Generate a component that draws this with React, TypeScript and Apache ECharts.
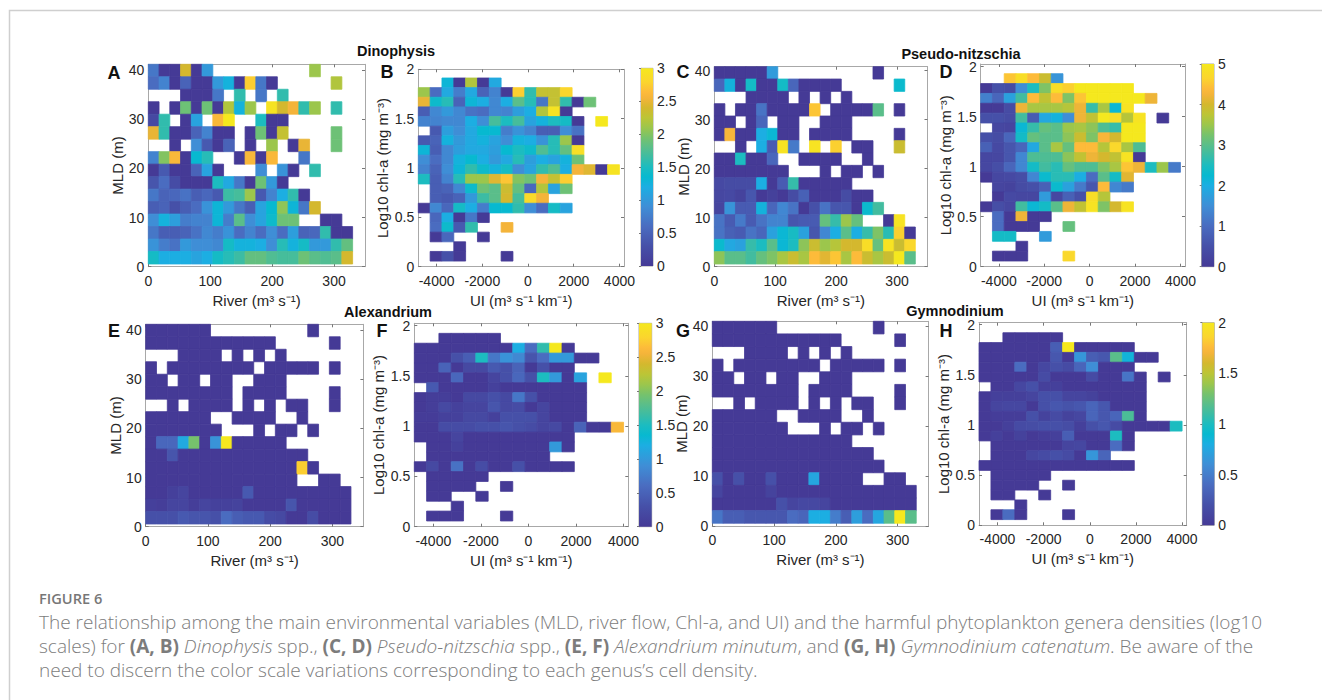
import React, { useEffect, useRef } from "react";
import * as echarts from "echarts";

const _ = null;

const riverTicks = [0, 100, 200, 300];
const mldTicks = [0, 10, 20, 30, 40];
const uiTicks = [-4000, -2000, 0, 2000, 4000];
const chlTicks = [0, 0.5, 1, 1.5, 2];
const cb3Ticks = [0, 0.5, 1, 1.5, 2, 2.5, 3];
const cb5Ticks = [0, 1, 2, 3, 4, 5];
const cb2Ticks = [0, 0.5, 1, 1.5, 2];

const valuesA = [
  [0.7,0,0,2.4,0,1.0,_,_,_,_,_,_,_,_,_,2.1],
  [0.6,0.8,0,0.5,0,0,1.0,1.25,0,2.75,0.7,0,_,_,_,_,_,2.2],
  [_,_,_,0,0,0,0.7,_,1.6,_,0.7,_,1.6],
  [0,_,0,1.9,0,1.9,0,2.2,1.25,2.1,_,2.95,2.4,2.55,1.6,2.1,_,1.6],
  [0.2,1.6,_,0,1.1,_,2.6,3,_,_,1.5,0,0],
  [2.5,1.6,0,0,0.5,0.8,0,0,_,0,1.9,0,2.3,_,_,_,_,1.9],
  [_,_,0,_,0.9,0.4,0,0.5,_,0,_,2.1,_,0,2.5,_,_,1.9],
  [0.8,2.0,2.6,0,1.35,1.55,_,_,0,2.6,0,2.6,_,_,0.7],
  [0,0.4,0,0,0.5,1.1,0,_,_,_,0.9,_,0.95,0,_,1.6],
  [0.35,0.6,0.25,0,0,0,1.5,1.15,0.7,0,1.9,1.0,0],
  [0.7,0.5,0.55,0.65,0.45,0.55,0.4,1.65,1.7,2.1,0.4,0.8,1.2,1.6,0],
  [0.45,0.5,0.3,0.45,0.6,0.95,1.3,1.0,0.7,0.45,1.1,1.35,2.05,1.3,0.7,2.4],
  [0.9,1.25,1.05,0.75,0.8,0.8,1.3,0.75,1.8,0.9,1.1,1.4,1.9,1.9,_,_,0,0],
  [0.7,0.45,0.45,0.5,0.65,0.85,0.75,0.95,0.6,0.8,0.6,0.9,0.6,1.05,0.5,0.55,1.6,0,0],
  [0.95,0.75,0.65,1.0,0.9,0.9,0.85,1.45,1.25,1.25,1.2,0.9,1.55,1.25,1.45,1.0,1.0,1.6,1.85],
  [1.45,1.2,1.2,1.2,1.1,1.2,1.45,1.55,1.65,1.85,1.85,1.75,1.7,1.7,1.9,1.8,1.75,1.8,2.4],
];

const valuesB = [
  [_,_,1.3,0,2.2,0,1.15],
  [2.1,0.6,1.15,0.75,1.15,0.5,0.8,0,2.75,1.6,2.3,2.3,2.8],
  [2.5,1.4,1.55,0.5,1.3,1.2,0.85,1.2,1.8,1.55,0.7,2.3,1.6,0,1.9],
  [0.45,0.85,1.0,0.85,0.65,0.6,0.85,0.8,1.05,1.2,2.2,2.95,0],
  [0.8,0.8,0.85,0.85,1.2,0.9,1.7,1.5,1.7,1.1,1.25,1.5,1.45,0,_,3.0],
  [_,0.4,1.05,0.9,1.15,1.35,1.35,0.75,0.95,0.8,0.45,0.45,0.9,0.65],
  [0.4,0.5,1.25,1.0,1.15,1.25,1.1,0.9,1.25,1.2,0.95,1.55,2.1,0],
  [1.3,0.45,0.85,1.05,1.15,1.15,1.05,1.35,1.5,1.4,1.75,1.55,1.85,2.9],
  [0.9,0.6,0.85,1.25,1.35,1.2,1.0,1.15,1.55,1.05,1.2,1.1,1.25,1.9],
  [0.8,0.5,0.9,1.3,1.6,1.4,1.25,1.45,0.9,1.1,1.6,1.75,1.2,2.55,2.45,0,2.95],
  [1.5,0.45,0.8,1.55,2.1,2.1,2.45,2.7,2.0,1.9,2.55,2.3,2.75],
  [_,0.45,0.5,0.85,1.4,1.9,1.8,2.35,1.85,0.55,2.2,1.1,1.9],
  [_,0.45,0.4,0.5,1.0,1.65,1.8,2.4,1.7,2.85,2.55],
  [0,0.85,0.55,1.45,1.2,0.75,1.35,1.35,1.6,0.9,0.6,1.45,1.1],
  [_,0.55,1.2,0,0.7,0],
  [_,0.6,1.4,0.4,1.6,_,_,2.55],
  [_,0,0.55,_,_,0],
  [_,_,_,0],
  [_,0,0.3,0,_,_,_,0],
];

const valuesC = [
  [0,0,0,0,0,1.7,_,_,_,_,_,_,_,_,_,0],
  [0.9,2.1,0,2.4,0,0,2.4,0.9,0,0,0,0,_,_,_,_,_,2.3],
  [_,_,_,0,0,0,0,_,0,_,0,_,0],
  [0,_,0,0,1.1,0,0,0,0,4.5,_,0,0,0,0,3.0,_,0],
  [0,0,_,0,0.9,_,0,0,_,_,0,0,0],
  [0,4.3,0,0,2.0,2.2,0,0,_,0,0,0,0,_,_,_,_,0],
  [_,_,0,_,2.0,0.7,4.9,1.2,_,4.9,_,4.6,_,0,0,_,_,3.9],
  [0,0,2.5,0,0,0.9,_,_,0,0,0,0,_,_,0],
  [0,0,0,0,0,0,0,_,_,_,0,_,0,0,_,0],
  [0.35,0.4,0.4,0.4,2.0,0,0.7,2.7,0,0,0,0,0],
  [0.3,0.35,0.2,0.6,0,0.15,0,0.4,0.8,0,0,0,0.4,0,0],
  [0.25,1.6,0.7,0.7,2.1,0.9,1.4,1.1,0,0.5,1.1,0.6,0.6,0,2.3,2.8],
  [1.1,0.7,1.2,0.7,1.1,1.35,1.35,0.6,0.7,0.7,3.1,2.7,3.5,3.1,_,_,0,4.9],
  [1.1,0.8,0.7,1.1,0.9,1.8,2.2,2.45,1.8,0.6,1.4,2.0,3.0,2.0,2.7,3.3,2.6,4.6,0],
  [2.3,1.9,1.8,2.7,2.5,3.0,2.2,2.5,3.4,3.9,3.5,3.7,4.0,4.0,4.8,3.1,4.9,3.9,4.7],
  [3.4,3.0,3.0,2.8,3.1,3.3,3.6,3.9,3.6,4.4,4.1,4.5,3.6,4.4,3.9,3.6,3.9,5,3.0],
];

const valuesD = [
  [_,_,4.5,4.8,4.4,3.9,1.6],
  [0,0.5,0.4,1.5,2.5,3.3,4.8,4.6,5,5,5,5,5],
  [1.3,0.9,1.8,2.8,4.4,3.8,4.4,3.3,4.5,5,5,5,5,5,4.2],
  [0,0,0.4,4.2,3.6,3.6,3.6,3.7,4.2,2.7,3.6,2.2,4.9],
  [0.5,0.5,0.4,2.8,0.7,1.9,2.1,1.5,4.2,3.8,5,4.8,3.7,4.9,_,0],
  [_,0.3,0.25,2.2,2.7,3.1,3.0,3.5,3.6,3.4,2.9,2.7,5,5],
  [0.5,0.4,0.9,2.4,3.1,3.0,3.0,3.4,3.9,3.3,4.3,4.0,5,5],
  [0.8,0.35,0.6,0.9,1.9,3.0,3.6,3.1,4.4,4.4,3.7,4.7,3.6,2.9],
  [0.3,0.3,0.6,1.4,2.9,2.9,2.9,3.4,3.8,4.2,4.0,3.8,4.9,0],
  [0.3,0.45,0.9,1.4,2.4,2.8,2.6,3.1,2.9,2.9,3.3,3.6,4.5,4.2,2.5,3.5,1.2],
  [0,0.3,0.35,0.45,1.4,2.3,2.6,2.6,2.0,1.0,3.0,2.4,4.1],
  [_,0.25,0.2,0.4,0.5,0.8,2.3,1.8,1.2,0.6,4.4,1.4,1.2],
  [_,0,0.35,0.3,0.3,1.7,0.3,0.8,0.5,4.8,3.7],
  [0,0.45,0.3,2.8,2.2,2.4,3.0,4.2,3.8,4.9,3.3,4.0,4.9],
  [_,1.0,0,4.2,0,0],
  [_,1.0,0,0,0,_,_,3.1],
  [_,2.4,2.4,_,_,1.7],
  [_,_,_,0],
  [_,0,0,0,_,_,_,4.7],
];

const valuesE = [
  [0,0,0,0,0,0,_,_,_,_,_,_,_,_,_,0],
  [0,0,0,0,0,0,0,0,0,0,0,0,_,_,_,_,_,0],
  [_,_,_,0,0,0,0,_,0,_,0,_,0],
  [0,_,0,0,0,0,0,0,0,0,_,0,0,0,0,0,_,0],
  [0,0,_,0,0,_,0,0,_,_,0,0,0],
  [0,0,0,0,0,0,0,0,_,0,0,0,0,_,_,_,_,0],
  [_,_,0,_,0,0,0,0,_,0,_,0,_,0,0,_,_,0],
  [0,0,0,0,0,0,_,_,0,0,0,0,_,_,0],
  [0,0,0,0,0,0,0,_,_,_,0,_,0,0,_,0],
  [0,0.55,0.55,1.15,1.95,0,0.95,3,0,0,0,0,0],
  [0,0,0.35,0,0,0,0,0,0,0,0,0,0,0,0],
  [0,0,0,0,0,0,0,0,0,0,0,0,0,0,2.75,0],
  [0,0,0,0,0,0,0,0,0,0,0,0,0,0,_,_,0,0],
  [0,0,0.08,0.15,0,0,0,0,0,0.4,0,0,0,0,0,0,0,0,0],
  [0.08,0.05,0.15,0.15,0.05,0.15,0.1,0.1,0.12,0,0,0,0,0.35,0,0,0,0,0],
  [0.3,0.3,0.3,0.4,0.35,0.35,0.3,0.6,0.45,0.4,0.4,0.25,0.2,0,0,0.25,0,0,0],
];

const valuesF = [
  [_,_,0,0,0,0,0],
  [0,0,0,0,0,0,0,0,1.2,0.6,1.6,3,0],
  [0,0,0,0.3,0.45,1.5,0.7,0.95,0.85,0.35,0.6,1.0,1.0,0,0],
  [0,0,0.5,0,0.2,0.2,0.4,0.3,0.5,0,0.3,0,0],
  [0,0,0,0.55,0,0,0.15,0.3,0.55,0.3,1.5,1.0,0,1.1,_,3],
  [_,0.4,0,0,0,0,0.1,0,0,0,0,0,0,0],
  [0,0.05,0.05,0,0.2,0.2,0.3,0.2,0.7,0.3,0,0,0,0],
  [0,0.05,0.2,0.1,0.15,0.15,0.35,0.2,0.25,0,0.15,0,0,0],
  [0.03,0.03,0.1,0.1,0.2,0.2,0.1,0.3,0.3,0.3,0.15,0,0,0],
  [0,0,0.25,0.25,0.25,0.3,0.3,0.35,0.3,0.25,0.15,0.2,0,0.5,0,0,2.6],
  [0,0,0,0.15,0,0,0,0,0,0,0,0,0],
  [_,0,0,0.1,0,0,0,0,0,0,0,1.0,0],
  [_,0,0,0,0,0,0,0,0,0,0],
  [0,0.2,0,0.65,0,0.25,0,0,0.3,0,0,0,0],
  [_,0,0,0,0,0],
  [_,0,0,0,0,_,_,0],
  [_,0,0,_,_,0],
  [_,_,_,0],
  [_,0,0,0,_,_,_,0],
];

const valuesG = [
  [0,0,0,0,0,0,_,_,_,_,_,_,_,_,_,0],
  [0,0,0,0,0,0,0,0,0,0,0,0,_,_,_,_,_,0],
  [_,_,_,0,0,0,0,_,0,_,0,_,0],
  [0,_,0,0,0,0,0,0,0,0,_,0,0,0,0,0,_,0],
  [0,0,_,0,0,_,0,0,_,_,0,0,0],
  [0,0,0,0,0,0,0,0,_,0,0,0,0,_,_,_,_,0],
  [_,_,0,_,0,0,0,0,_,0,_,0,_,0,0,_,_,0],
  [0,0,0,0,0,0,_,_,0,0,0,0,_,_,0],
  [0,0,0,0,0,0,0,_,_,_,0,_,0,0,_,0],
  [0,0,0,0,0,0,0,0,0,0,0,0,0],
  [0,0,0,0,0,0,0,0,0,0,0,0,0,0,0],
  [0,0,0,0,0,0,0,0,0,0,0,0,0,0,0,0],
  [0.2,0,0.2,0,0,0.2,0,0,0,0.75,0,0,0,0,_,_,0,0],
  [0.1,0,0,0,0,0.08,0,0,0,0,0,0,0,0,0,0,0,0,0],
  [0,0,0,0,0,0,0.2,0.1,0.13,0.13,0.1,0,0,0,0,0,0,0,0],
  [0.45,0.3,0.3,0.25,0.25,0.25,0.25,0.4,0.35,0.8,0.8,0.5,0.3,0.7,0.4,0.75,1.2,2,1.2],
];

const valuesH = [
  [_,_,0,0,0,0,0],
  [0,0,0,0,0,0,0.3,2,0,0,0,0,0],
  [0,0,0,0,0,0,0.25,0,0.65,0.3,0.25,1.2,0.85,0,0],
  [0,0,0,0.4,0,0.12,0.2,0.15,0.35,0.6,0,0,0],
  [0,0,0,0,0,0.15,0,0,0,0.15,0,0,0.45,0,_,0],
  [_,0,0,0.12,0.2,0.05,0.05,0,0,0,0,0,0,0],
  [0,0.05,0.05,0.05,0.1,0.2,0.2,0.1,0.1,0.07,0,0,0,0],
  [0,0.1,0.12,0.12,0,0.2,0.25,0.22,0.25,0.35,0.25,0,0,0],
  [0,0.03,0.03,0.03,0.2,0.08,0.15,0.08,0.12,0.35,0.25,0.35,1.15,0],
  [0,0,0.05,0.15,0.17,0.2,0.2,0.17,0.05,0.2,0.25,0.15,0,0,0,0,1.0],
  [0,0.05,0,0.07,0,0.03,0.05,0.3,0,0,0,1.0,0],
  [_,0,0,0,0,0,0,0.1,0.12,0,0,0.4,0],
  [_,0,0,0,0.12,0.15,0.2,0.15,0,0.65,0.35],
  [0,0,0,0,0,0,0,0,0,0,0,0,0],
  [_,0,0,0,0,0],
  [_,0,0,0,0,_,_,0],
  [_,0,0,_,_,0],
  [_,_,_,0],
  [_,0,0.4,0,_,_,_,0],
];

const PARULA: [number, string][] = [
  [0, "#453a96"], [0.1, "#4650a8"], [0.2, "#4a6cc0"], [0.3, "#3f8ed6"],
  [0.4, "#1caee2"], [0.45, "#07b9d0"], [0.5, "#1cbcc0"], [0.55, "#3cbca4"],
  [0.6, "#5abe8a"], [0.65, "#76c26c"], [0.7, "#9cc64c"], [0.75, "#bcc536"],
  [0.8, "#d4b82e"], [0.85, "#f4b43a"], [0.88, "#fdbb3a"], [0.93, "#fbd52e"],
  [1, "#f5e81e"],
];

function hexRgb(h: string) {
  return [1, 3, 5].map((i) => parseInt(h.slice(i, i + 2), 16));
}
function parula(f: number) {
  const t = Math.min(1, Math.max(0, f));
  for (let i = 1; i < PARULA.length; i++) {
    if (t <= PARULA[i][0]) {
      const [a, ca] = PARULA[i - 1];
      const [b, cb] = PARULA[i];
      const k = (t - a) / (b - a);
      const A = hexRgb(ca);
      const B = hexRgb(cb);
      return `rgb(${A.map((v, j) => Math.round(v + (B[j] - v) * k)).join(",")})`;
    }
  }
  return PARULA[PARULA.length - 1][1];
}

const TEXT = "#262626";
const BOX = "#a8a8a8";
const FONT = "'Liberation Sans', Arial, sans-serif";

const RIVER_NAME = "River (m³ s⁻¹)";
const UI_NAME = "UI (m³ s⁻¹ km⁻¹)";
const MLD_NAME = "MLD (m)";
const CHL_NAME = "Log10 chl-a (mg m⁻³)";

const riverBins = { start: 0, width: 330 / 19 };
const uiBins = { start: -4800, width: 8800 / 17 };
const chlBinsStart = 0.057;
const mldBinsStart = 0.55;

type Panel = {
  kind: "river" | "ui";
  rows: (number | null)[][];
  max: number;
  box: [number, number, number, number];
  yMax: number;
  binTop: number;
  bar?: [number, number, number, number];
  barTicks?: number[];
};

const panels: Panel[] = [
  { kind: "river", rows: valuesA, max: 3, box: [148.3, 64.3, 365, 266.7], yMax: 41.2, binTop: 41.2 },
  { kind: "ui", rows: valuesB, max: 3, box: [418.3, 69.3, 624, 266.7], yMax: 2, binTop: 1.912, bar: [641, 68.3, 653, 266], barTicks: cb3Ticks },
  { kind: "river", rows: valuesC, max: 5, box: [714.3, 66.7, 927.5, 266.7], yMax: 40.8, binTop: 40.8 },
  { kind: "ui", rows: valuesD, max: 5, box: [980.7, 64, 1185, 266.7], yMax: 2.027, binTop: 1.93, bar: [1201.7, 64, 1214, 266.7], barTicks: cb5Ticks },
  { kind: "river", rows: valuesE, max: 3, box: [145.7, 324.3, 363.4, 526.7], yMax: 41.2, binTop: 41.2 },
  { kind: "ui", rows: valuesF, max: 3, box: [414.3, 323.3, 628.3, 526.7], yMax: 2.024, binTop: 1.924, bar: [639, 323.3, 651.7, 526.7], barTicks: cb3Ticks },
  { kind: "river", rows: valuesG, max: 2, box: [712.3, 321.3, 928.6, 526], yMax: 40.9, binTop: 40.9 },
  { kind: "ui", rows: valuesH, max: 2, box: [979, 322.7, 1186.7, 525.3], yMax: 2.02, binTop: 1.92, bar: [1202.3, 322.7, 1214.3, 525.3], barTicks: cb2Ticks },
];

const panelLetters: [string, number, number][] = [
  ["A", 114, 73], ["B", 387, 72], ["C", 683, 72], ["D", 946, 72],
  ["E", 114, 331], ["F", 382, 331], ["G", 683, 331], ["H", 946, 331],
];
const genusTitles: [string, number, number][] = [
  ["Dinophysis", 396, 50.5], ["Pseudo-nitzschia", 961, 53.5],
  ["Alexandrium", 388, 312], ["Gymnodinium", 955, 311],
];

const CAPTION_HEAD = "FIGURE 6";
const CAPTION_LINES = [
  "The relationship among the main environmental variables (MLD, river flow, Chl-a, and UI) and the harmful phytoplankton genera densities (log10",
  "scales) for {b|(A, B)} {i|Dinophysis} spp., {b|(C, D)} {i|Pseudo-nitzschia} spp., {b|(E, F)} {i|Alexandrium minutum}, and {b|(G, H)} {i|Gymnodinium catenatum}. Be aware of the",
  "need to discern the color scale variations corresponding to each genus’s cell density.",
];
const CAP_FONT = "'Open Sans', Lato, sans-serif";
const CAP_COLOR = "#7c7c7c";
const CAP_SIZE = 19;

function fmt(v: number) {
  return String(v);
}

function axisPair(
  common: any,
  ticks: number[],
  name: string,
  gridIndex: number,
  main: string,
  mirror: string,
  nameGap: number,
  labelMargin: number
) {
  const base = {
    ...common,
    type: "value",
    gridIndex,
    splitLine: { show: false },
    axisLine: { show: true, onZero: false, lineStyle: { color: BOX, width: 1 } },
    axisTick: { show: true, inside: true, length: 3, customValues: ticks, lineStyle: { color: "#777" } },
  };
  return [
    {
      ...base,
      position: main,
      name,
      nameLocation: "middle",
      nameGap,
      nameMoveOverlap: false,
      nameTextStyle: { color: TEXT, fontSize: 15, fontFamily: FONT },
      axisLabel: { show: true, customValues: ticks, color: TEXT, fontSize: 14, fontFamily: FONT, margin: labelMargin, formatter: fmt, hideOverlap: false },
    },
    { ...base, position: mirror, axisLabel: { show: false } },
  ];
}

export default function App() {
  const ref = useRef<HTMLDivElement>(null);
  useEffect(() => {
    document.body.style.margin = "0";
    const chart = echarts.init(ref.current!, undefined, { renderer: "svg" });
    const grid: any[] = [];
    const xAxis: any[] = [];
    const yAxis: any[] = [];
    const series: any[] = [];

    panels.forEach((p) => {
      const gi = grid.length;
      const [x1, y1, x2, y2] = p.box;
      grid.push({ left: x1, top: y1, width: x2 - x1, height: y2 - y1 });
      const river = p.kind === "river";
      const xRange = river ? { min: 0, max: 350 } : { min: -4800, max: 4200 };
      const yRange = { min: 0, max: p.yMax };
      const xi = xAxis.length;
      const yi = yAxis.length;
      xAxis.push(...axisPair(xRange, river ? riverTicks : uiTicks, river ? RIVER_NAME : UI_NAME, gi, "bottom", "top", 26, 7));
      yAxis.push(...axisPair(yRange, river ? mldTicks : chlTicks, river ? MLD_NAME : CHL_NAME, gi, "left", "right", river ? 23 : 28, 4));

      const w = river ? riverBins.width : uiBins.width;
      const xs = river ? riverBins.start : uiBins.start;
      const n = p.rows.length;
      const ys = river ? mldBinsStart : chlBinsStart;
      const h = (p.binTop - ys) / n;
      const data: number[][] = [];
      p.rows.forEach((row, r) => {
        row.forEach((v, c) => {
          if (v !== null) data.push([xs + c * w, ys + (n - 1 - r) * h, v]);
        });
      });
      series.push({
        type: "custom",
        coordinateSystem: "cartesian2d",
        xAxisIndex: xi,
        yAxisIndex: yi,
        data,
        encode: { x: 0, y: 1 },
        silent: true,
        renderItem: (_p: any, api: any) => {
          const a = api.coord([api.value(0), api.value(1) + h]);
          const b = api.coord([api.value(0) + w, api.value(1)]);
          const color = parula(api.value(2) / p.max);
          return {
            type: "rect",
            shape: { x: a[0], y: a[1], width: b[0] - a[0], height: b[1] - a[1] },
            style: { fill: color, stroke: color, lineWidth: 0.8 },
          };
        },
      });

      if (p.bar) {
        const bi = grid.length;
        const [bx1, by1, bx2, by2] = p.bar;
        grid.push({ left: bx1, top: by1, width: bx2 - bx1, height: by2 - by1, show: true, borderColor: BOX, borderWidth: 1 });
        const bxi = xAxis.length;
        const byi = yAxis.length;
        xAxis.push({ type: "value", gridIndex: bi, min: 0, max: 1, show: false });
        yAxis.push({
          type: "value",
          gridIndex: bi,
          position: "right",
          min: 0,
          max: p.max,
          splitLine: { show: false },
          axisLine: { show: true, lineStyle: { color: BOX } },
          axisTick: { show: true, inside: true, length: 2, customValues: p.barTicks, lineStyle: { color: "#777" } },
          axisLabel: { customValues: p.barTicks, color: TEXT, fontSize: 14, fontFamily: FONT, margin: 4, formatter: fmt },
        });
        const barMax = p.max;
        series.push({
          type: "custom",
          coordinateSystem: "cartesian2d",
          xAxisIndex: bxi,
          yAxisIndex: byi,
          data: [[0, 0]],
          silent: true,
          renderItem: (_p: any, api: any) => {
            const a = api.coord([0, barMax]);
            const b = api.coord([1, 0]);
            return {
              type: "rect",
              shape: { x: a[0], y: a[1], width: b[0] - a[0], height: b[1] - a[1] },
              style: {
                fill: new echarts.graphic.LinearGradient(0, 1, 0, 0, PARULA.map(([offset, color]) => ({ offset, color }))),
              },
            };
          },
        });
      }
    });

    const elements: any[] = [
      {
        type: "polyline",
        silent: true,
        shape: { points: [[9.5, 700], [9.5, 10.5], [1322, 10.5]] },
        style: { stroke: "#cfcfcf", lineWidth: 1.5, fill: "none" },
      },
    ];
    panelLetters.forEach(([t, x, y]) => {
      elements.push({
        type: "text",
        x,
        y,
        style: { text: t, fill: "#111", font: `bold 18px ${FONT}`, textAlign: "center", textVerticalAlign: "middle" },
      });
    });
    genusTitles.forEach(([t, x, y]) => {
      elements.push({
        type: "text",
        x,
        y,
        style: { text: t, fill: "#111", font: `bold 14.5px ${FONT}`, textAlign: "center", textVerticalAlign: "middle" },
      });
    });
    elements.push({
      type: "text",
      x: 39,
      y: 598,
      style: { text: CAPTION_HEAD, fill: "#777", font: `600 14.6px ${CAP_FONT}`, textVerticalAlign: "middle" },
    });
    CAPTION_LINES.forEach((t, i) => {
      elements.push({
        type: "text",
        x: 39,
        y: 622 + i * 24,
        style: {
          text: t,
          fill: CAP_COLOR,
          font: `300 ${CAP_SIZE}px ${CAP_FONT}`,
          textVerticalAlign: "middle",
          rich: {
            b: { fontFamily: CAP_FONT, fontSize: CAP_SIZE, fontWeight: 700, fill: CAP_COLOR },
            i: { fontFamily: CAP_FONT, fontSize: CAP_SIZE, fontStyle: "italic", fontWeight: 300, fill: CAP_COLOR },
          },
        },
      });
    });

    chart.setOption({
      animation: false,
      backgroundColor: "#ffffff",
      grid,
      xAxis,
      yAxis,
      series,
      graphic: { elements },
    });
    return () => chart.dispose();
  }, []);
  return <div ref={ref} style={{ position: "absolute", left: 0, top: 0, width: 1322, height: 700 }} />;
}
